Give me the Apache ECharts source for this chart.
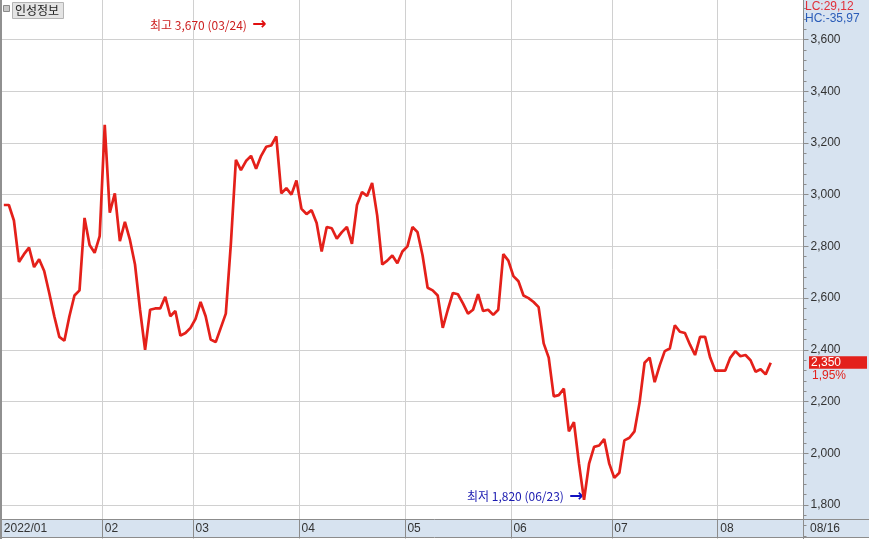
<!DOCTYPE html>
<html>
<head>
<meta charset="utf-8">
<script src="https://cdn.jsdelivr.net/npm/echarts@6/dist/echarts.min.js"></script>
<style>html,body{margin:0;padding:0;background:#fff;}#c{width:869px;height:539px;}</style>
</head>
<body>
<div id="c"></div>
<script>
// trading days (MM/DD), 2022
const dates = [
  '01/03','01/04','01/05','01/06','01/07','01/10','01/11','01/12','01/13','01/14','01/17','01/18','01/19','01/20','01/21','01/24','01/25','01/26','01/27','01/28',
  '02/03','02/04','02/07','02/08','02/09','02/10','02/11','02/14','02/15','02/16','02/17','02/18','02/21','02/22','02/23','02/24','02/25','02/28',
  '03/02','03/03','03/04','03/07','03/08','03/10','03/11','03/14','03/15','03/16','03/17','03/18','03/21','03/22','03/23','03/24','03/25','03/28','03/29','03/30','03/31',
  '04/01','04/04','04/05','04/06','04/07','04/08','04/11','04/12','04/13','04/14','04/15','04/18','04/19','04/20','04/21','04/22','04/25','04/26','04/27','04/28','04/29',
  '05/02','05/03','05/04','05/06','05/09','05/10','05/11','05/12','05/13','05/16','05/17','05/18','05/19','05/20','05/23','05/24','05/25','05/26','05/27','05/30','05/31',
  '06/02','06/03','06/07','06/08','06/09','06/10','06/13','06/14','06/15','06/16','06/17','06/20','06/21','06/22','06/23','06/24','06/27','06/28','06/29','06/30',
  '07/01','07/04','07/05','07/06','07/07','07/08','07/11','07/12','07/13','07/14','07/15','07/18','07/19','07/20','07/21','07/22','07/25','07/26','07/27','07/28','07/29',
  '08/01','08/02','08/03','08/04','08/05','08/08','08/09','08/10','08/11','08/12','08/16'
];
const padSlots = ['', '', '', '', '', ''];
const closes = [
  2960,2960,2900,2740,2770,2795,2720,2750,2705,2620,2530,2450,2435,2530,2610,2630,2910,2805,2775,2840,
  3270,2930,3005,2820,2895,2825,2730,2555,2400,2555,2560,2560,2605,2530,2550,2455,2465,2485,
  2520,2585,2530,2440,2430,2485,2540,2810,3135,3095,3130,3150,3100,3150,3185,3190,3225,3005,3025,3000,3055,
  2945,2925,2940,2890,2780,2875,2870,2830,2855,2875,2810,2960,3010,2995,3045,2920,2730,2745,2765,2735,2780,
  2800,2875,2855,2765,2640,2630,2610,2485,2555,2620,2615,2580,2540,2555,2615,2550,2555,2535,2555,2770,2745,
  2685,2665,2610,2600,2585,2565,2425,2370,2220,2225,2250,2085,2120,1960,1820,1960,2025,2030,2055,1960,
  1905,1925,2050,2060,2085,2195,2350,2370,2275,2340,2395,2405,2495,2470,2465,2420,2380,2450,2450,2370,2320,
  2320,2320,2370,2395,2375,2380,2360,2315,2325,2305,2350
];
const firstMonthLabel = '2022/01';
const lastDateLabel = '08/16';
const changePct = '1,95%';
const lcText = 'LC:29,12';
const hcText = 'HC:-35,97';
const maxNote = '최고 3,670 (03/24)  ';
const minNote = '최저 1,820 (06/23)  ';
const titleText = '인성정보';

const FONT = "'Liberation Sans', 'Noto Sans CJK KR', sans-serif";
const KFONT = "'Noto Sans CJK KR', 'Liberation Sans', sans-serif";
const AFONT = "'DejaVu Sans', sans-serif";
const cats = dates.concat(padSlots);
const monthStart = new Set();
dates.forEach((d, i) => { if (i === 0 || d.slice(0, 2) !== dates[i - 1].slice(0, 2)) monthStart.add(i); });
const isMonth = (i) => monthStart.has(i);
const PANEL = '#d7e3f0';
const DARK = '#8c8c8c';
const GRIDC = '#d0d0d0';

const chart = echarts.init(document.getElementById('c'), null, { renderer: 'canvas' });
const option = {
  animation: false,
  backgroundColor: '#ffffff',
  grid: [
    { left: 1.3, right: 65.5, top: -12.25, bottom: -17.75, containLabel: false, outerBoundsMode: 'none' },
    { left: 1.3, right: 65.5, top: 519, height: 18, containLabel: false, outerBoundsMode: 'none' }
  ],
  xAxis: [
    {
      gridIndex: 0, type: 'category', data: cats, boundaryGap: true,
      axisLine: { show: false }, axisTick: { show: false }, axisLabel: { show: false },
      splitLine: { show: true, interval: (i) => isMonth(i), lineStyle: { color: GRIDC, width: 1 } }
    },
    {
      gridIndex: 1, type: 'category', data: cats, boundaryGap: true, position: 'top', z: 6,
      axisLine: { show: false }, axisTick: { show: false },
      splitLine: { show: true, interval: (i) => isMonth(i), lineStyle: { color: DARK, width: 1 } },
      axisLabel: {
        show: true, inside: true, interval: (i) => isMonth(i), margin: 9.5,
        align: 'left', verticalAlign: 'middle', color: '#333', fontSize: 12, fontFamily: FONT,
        formatter: (v, i) => (i === 0 ? firstMonthLabel : v.slice(0, 2))
      }
    }
  ],
  yAxis: [
    {
      gridIndex: 0, type: 'value', position: 'right', z: 6,
      min: 1600, max: 3800, interval: 200,
      axisLine: { show: true, lineStyle: { color: DARK, width: 1 } },
      axisTick: { show: true, length: 5, lineStyle: { color: DARK } },
      minorTick: { show: true, splitNumber: 5, length: 3, lineStyle: { color: DARK } },
      axisLabel: {
        color: '#333', fontSize: 12, fontFamily: FONT, margin: 7,
        showMinLabel: false, showMaxLabel: false,
        formatter: (v) => v.toLocaleString('en-US')
      },
      splitLine: { show: true, lineStyle: { color: GRIDC, width: 1 } }
    },
    { gridIndex: 1, type: 'value', show: false }
  ],
  series: [{
    type: 'line', xAxisIndex: 0, yAxisIndex: 0, data: closes, z: 8,
    symbol: 'none', smooth: false,
    lineStyle: { color: '#e4201a', width: 2.7 },
    markPoint: {
      symbol: 'circle', symbolSize: 1, itemStyle: { color: 'rgba(0,0,0,0)' },
      data: [{ type: 'min', name: 'min' }],
      label: {
        show: true, position: 'left', distance: 0, offset: [0, -3],
        color: '#1a1ab0', fontSize: 12, fontFamily: KFONT,
        formatter: minNote + '{a|→}',
        rich: { a: { fontSize: 17, color: '#1010c0', fontWeight: 'bold', fontFamily: AFONT } }
      }
    }
  }],
  graphic: [
    { id: 'rp', type: 'rect', z: 5, silent: true, shape: { x: 803.5, y: 0, width: 66, height: 519 }, style: { fill: PANEL } },
    { id: 'band', type: 'rect', z: 5, silent: true, shape: { x: 0, y: 519, width: 869, height: 18 }, style: { fill: PANEL } },
    { id: 'bl1', type: 'line', z: 7, silent: true, shape: { x1: 0, y1: 519.5, x2: 869, y2: 519.5 }, style: { stroke: DARK, lineWidth: 1 } },
    { id: 'bl2', type: 'line', z: 7, silent: true, shape: { x1: 0, y1: 537.5, x2: 869, y2: 537.5 }, style: { stroke: DARK, lineWidth: 1 } },
    { id: 'lb', type: 'rect', z: 7, silent: true, shape: { x: 0, y: 0, width: 2, height: 539 }, style: { fill: '#909090' } },
    { id: 'ico', type: 'rect', z: 7, silent: true, shape: { x: 3.5, y: 5.5, width: 6, height: 6 }, style: { fill: '#c8c8c8', stroke: '#8a8a8a', lineWidth: 1 } },
    { id: 'tbox', type: 'rect', z: 7, silent: true, shape: { x: 12.5, y: 2.5, width: 51, height: 16 }, style: { fill: '#e4e4e4', stroke: '#b4b4b4', lineWidth: 1 } },
    { id: 'ttl', type: 'text', z: 8, silent: true, style: { x: 15, y: 10.5, text: titleText, fill: '#222', font: '12px ' + KFONT, verticalAlign: 'middle' } },
    { id: 'lc', type: 'text', z: 8, silent: true, style: { x: 805, y: 7, text: lcText, fill: '#e0303a', font: '12px ' + FONT, verticalAlign: 'middle' } },
    { id: 'hc', type: 'text', z: 8, silent: true, style: { x: 805, y: 19, text: hcText, fill: '#2a5cb8', font: '12px ' + FONT, verticalAlign: 'middle' } },
    { id: 'ld', type: 'text', z: 8, silent: true, style: { x: 810, y: 528.5, text: lastDateLabel, fill: '#333', font: '12px ' + FONT, verticalAlign: 'middle' } },
    { id: 'mx', type: 'text', z: 8, silent: true, style: {
        x: 150, y: 25, verticalAlign: 'middle', fill: '#cc1f1f', font: '12px ' + KFONT,
        text: maxNote + '{a|→}',
        rich: { a: { fontSize: 17, fill: '#e01010', fontWeight: 'bold', fontFamily: AFONT } }
      } }
  ]
};
chart.setOption(option);

// current price tag tied to last close
const lastVal = closes[closes.length - 1];
const py = chart.convertToPixel({ yAxisIndex: 0 }, lastVal);
chart.setOption({
  graphic: [
    { id: 'ptag', type: 'rect', z: 9, silent: true, shape: { x: 809, y: py - 6.5, width: 58, height: 12.5 }, style: { fill: '#e3211c' } },
    { id: 'ptxt', type: 'text', z: 10, silent: true, style: { x: 811, y: py, text: lastVal.toLocaleString('en-US'), fill: '#ffffff', font: '12px ' + FONT, verticalAlign: 'middle' } },
    { id: 'pct', type: 'text', z: 10, silent: true, style: { x: 812, y: py + 12.5, text: changePct, fill: '#e3211c', font: '12px ' + FONT, verticalAlign: 'middle' } }
  ]
});
</script>
</body>
</html>
